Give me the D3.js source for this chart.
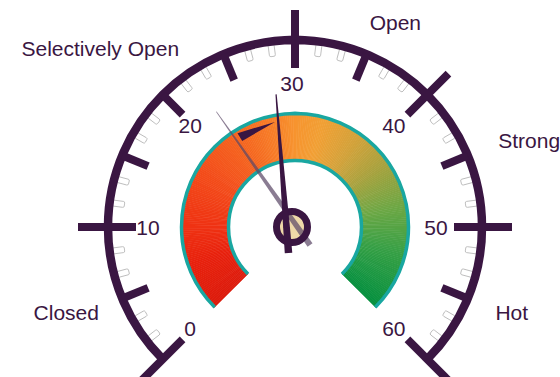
<!DOCTYPE html>
<html>
<head>
<meta charset="utf-8">
<script src="https://cdn.jsdelivr.net/npm/d3@7"></script>
<style>
  html, body { margin: 0; padding: 0; background: #fff; }
  svg { display: block; font-family: "Liberation Sans", Arial, sans-serif; }
</style>
</head>
<body>
<script>
// ---- gauge data ----
const scaleDomain = [0, 60];
const tickLabels = [0, 10, 20, 30, 40, 50, 60];
const sectorNames = ["Closed", "Selectively Open", "Open", "Strong", "Hot"];
const sectorBounds = [0, 10, 30, 40, 50, 60];
const currentValue = 29;      // dark needle
const previousValue = 22.2;   // translucent needle
const trendFrom = 23;         // trend wedge, thick end
const trendTo = 27.6;         // trend wedge, point

// ---- layout ----
const W = 560, H = 377;
const cx = 295, cy = 227;
const ink = "#3a1642";
const teal = "#19a7a1";

const svg = d3.select("body").append("svg").attr("width", W).attr("height", H);

const ang = d3.scaleLinear().domain(scaleDomain).range([-135, 135]);
const rad = v => ang(v) * Math.PI / 180;
const polar = (v, r, ox = cx, oy = cy) => [ox + r * Math.sin(rad(v)), oy - r * Math.cos(rad(v))];

// ---- coloured band (angular colour sweep red -> orange -> green) ----
const bandColor = d3.scaleLinear()
  .domain([-135, -110, -90, -60, -35, -12, 0, 15, 35, 55, 80, 105, 135])
  .range(["#dc1b0c", "#e8220e", "#ef3213", "#f34c1a", "#f5631f", "#f77f29", "#f7942f",
          "#f1a035", "#d3a23a", "#a8a23e", "#6ba745", "#36a046", "#06903f"])
  .interpolate(d3.interpolateRgb);

const rIn = 66, rOut = 114;
const band = svg.append("g").attr("transform", `translate(${cx},${cy})`);
const sliceArc = d3.arc().innerRadius(rIn).outerRadius(rOut);
const degs = d3.range(-135, 135, 1);
band.selectAll("path.slice").data(degs).join("path")
  .attr("class", "slice")
  .attr("d", d => sliceArc({
    startAngle: d * Math.PI / 180,
    endAngle: Math.min(d + 1.15, 135) * Math.PI / 180
  }))
  .attr("fill", d => bandColor(d + 0.5))
  .attr("stroke", d => bandColor(d + 0.5))
  .attr("stroke-width", 0.4);

// teal edges along outer and inner rims
[rOut - 0.5, rIn + 0.5].forEach(r => {
  band.append("path")
    .attr("d", d3.arc().innerRadius(r).outerRadius(r)({
      startAngle: rad(scaleDomain[0]), endAngle: rad(scaleDomain[1])
    }))
    .attr("fill", "none").attr("stroke", teal).attr("stroke-width", 3.5);
});

// ---- minor tick boxes (3 per 5-unit step) ----
const minorVals = d3.range(0, 37).filter(i => i % 3 !== 0).map(i => i * 5 / 3);
svg.append("g").selectAll("rect").data(minorVals).join("rect")
  .attr("x", -3).attr("y", -184).attr("width", 6).attr("height", 12).attr("rx", 1.5)
  .attr("fill", "#fff").attr("stroke", "#b4b4b4").attr("stroke-width", 0.8)
  .attr("transform", d => `translate(${cx},${cy}) rotate(${ang(d)})`);

// ---- outer dial ring ----
svg.append("path")
  .attr("transform", `translate(${cx},${cy})`)
  .attr("d", d3.arc().innerRadius(187).outerRadius(187)({
    startAngle: rad(scaleDomain[0]), endAngle: rad(scaleDomain[1])
  }))
  .attr("fill", "none").attr("stroke", ink).attr("stroke-width", 8.5);

// ticks every 5: sector boundaries cross the ring, the rest sit inside it
const tickVals = d3.range(scaleDomain[0], scaleDomain[1] + 0.01, 5);
svg.append("g").selectAll("line").data(tickVals).join("line")
  .attr("x1", d => polar(d, 159)[0]).attr("y1", d => polar(d, 159)[1])
  .attr("x2", d => polar(d, sectorBounds.includes(d) ? 217 : 187)[0])
  .attr("y2", d => polar(d, sectorBounds.includes(d) ? 217 : 187)[1])
  .attr("stroke", ink).attr("stroke-width", 8);

// ---- numeric labels ----
const lcx = 292;
svg.append("g").selectAll("text").data(tickLabels).join("text")
  .attr("x", d => polar(d, 144, lcx)[0])
  .attr("y", d => polar(d, 144, lcx)[1])
  .attr("dy", "0.36em")
  .attr("text-anchor", "middle")
  .attr("font-size", 21).attr("fill", ink)
  .text(d => d);

// ---- sector labels ----
const sectors = sectorNames.map((name, i) => ({
  name, mid: (sectorBounds[i] + sectorBounds[i + 1]) / 2
}));
const labelNudge = {
  "Closed": [-7, -6], "Selectively Open": [-25, -9], "Open": [8.5, 17],
  "Strong": [12.5, 5], "Hot": [-5, -6]
};
svg.append("g").selectAll("text").data(sectors).join("text")
  .attr("x", d => polar(d.mid, 240)[0] + labelNudge[d.name][0])
  .attr("y", d => polar(d.mid, 240)[1] + labelNudge[d.name][1])
  .attr("dy", "0.36em")
  .attr("text-anchor", "middle")
  .attr("font-size", 21).attr("fill", ink)
  .text(d => d.name);

// ---- trend wedge inside the band ----
{
  const a = polar(trendFrom, 101), b = polar(trendFrom, 110), t = polar(trendTo, 107);
  svg.append("path")
    .attr("d", `M${a}L${b}L${t}Z`)
    .attr("fill", ink);
}

// ---- hub, needles ----
const hub = [292, 227];
svg.append("circle").attr("cx", hub[0]).attr("cy", hub[1]).attr("r", 13)
  .attr("fill", "#efd9a9");

function needlePath(len, tail, wBase, wTip, wTail) {
  return `M${-wTail / 2},${tail} L${wTail / 2},${tail} L${wBase / 2},0 L${wTip / 2},${-len} ` +
         `L${-wTip / 2},${-len} L${-wBase / 2},0 Z`;
}

// previous reading: translucent needle
svg.append("path")
  .attr("d", needlePath(141, 22, 5.5, 0.8, 6))
  .attr("transform", `translate(297.4,${cy}) rotate(${ang(previousValue)})`)
  .attr("fill", "#5d4a68").attr("opacity", 0.72);

svg.append("circle").attr("cx", hub[0]).attr("cy", hub[1]).attr("r", 15.5)
  .attr("fill", "none").attr("stroke", ink).attr("stroke-width", 7);

// current reading
svg.append("path")
  .attr("d", needlePath(133, 26, 6.8, 1.2, 7.5))
  .attr("transform", `translate(286.5,${cy}) rotate(${ang(currentValue)})`)
  .attr("fill", ink);
</script>
</body>
</html>
